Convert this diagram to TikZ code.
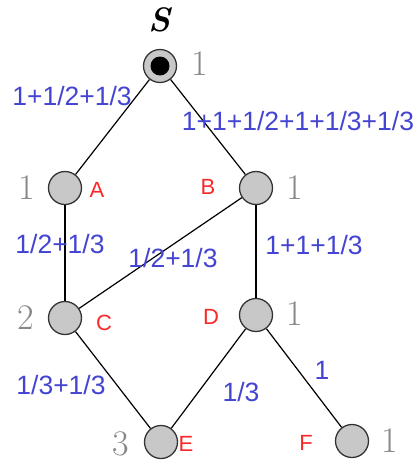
\documentclass[tikz,border=0pt]{standalone}
\usepackage{fontspec}
\setmainfont{Latin Modern Roman}
\newfontfamily\lblfont{Liberation Sans}
\definecolor{lblblue}{RGB}{68,68,210}
\definecolor{lblred}{RGB}{250,40,40}
\definecolor{numgray}{RGB}{135,135,135}
\definecolor{nodegray}{RGB}{200,200,200}
\begin{document}
\begin{tikzpicture}[x=1pt,y=-1pt,
  vert/.style={circle,draw=black!80,line width=1.3pt,fill=nodegray,minimum size=33pt,inner sep=0pt},
  edge/.style={draw=black,line width=1.2pt},
  wt/.style={text=lblblue,font=\lblfont\fontsize{26.5}{26.5}\selectfont,inner sep=0pt},
  nm/.style={text=lblred,font=\lblfont\fontsize{22}{22}\selectfont,inner sep=0pt},
  num/.style={text=numgray,font=\fontsize{36}{36}\selectfont,inner sep=0pt}]
\useasboundingbox (0,0) rectangle (418,464);
\node[vert] (S) at (160,66) {};
\node[circle,fill=black,minimum size=19pt,inner sep=0pt] (Sdot) at (S) {};
\node[vert] (A) at (65,188) {};
\node[vert] (B) at (256,188) {};
\node[vert] (C) at (65,318) {};
\node[vert] (D) at (256,315) {};
\node[vert] (E) at (161,442) {};
\node[vert] (F) at (352,441) {};
\draw[edge] (S) -- (A);
\draw[edge] (S) -- (B);
\draw[edge] (A) -- (C);
\draw[edge] (B) -- (C);
\draw[edge] (B) -- (D);
\draw[edge] (C) -- (E);
\draw[edge] (D) -- (E);
\draw[edge] (D) -- (F);
% source label
\node[font=\fontsize{34}{34}\selectfont\bfseries\itshape,inner sep=0pt] (Slbl) at (160,20) {S};
% gray numbers
\node[num] (nS) at (200,64) {1};
\node[num] (nA) at (27,188) {1};
\node[num] (nB) at (295,188) {1};
\node[num] (nC) at (26,318) {2};
\node[num] (nD) at (295,314) {1};
\node[num] (nE) at (121,444) {3};
\node[num] (nF) at (390,441) {1};
% red names
\node[nm] (lA) at (97,190) {A};
\node[nm] (lB) at (208,187) {B};
\node[nm] (lC) at (104,323) {C};
\node[nm] (lD) at (211,317) {D};
\node[nm] (lE) at (186,444) {E};
\node[nm] (lF) at (306,443) {F};
% blue weights
\node[wt] (w1) at (72,96) {1+1/2+1/3};
\node[wt] (w2) at (298,121) {1+1+1/2+1+1/3+1/3};
\node[wt] (w3) at (60,244) {1/2+1/3};
\node[wt] (w4) at (173,258) {1/2+1/3};
\node[wt] (w5) at (314,245) {1+1+1/3};
\node[wt] (w6) at (61,385) {1/3+1/3};
\node[wt] (w7) at (241,392) {1/3};
\node[wt] (w8) at (322,370) {1};
\end{tikzpicture}
\end{document}
